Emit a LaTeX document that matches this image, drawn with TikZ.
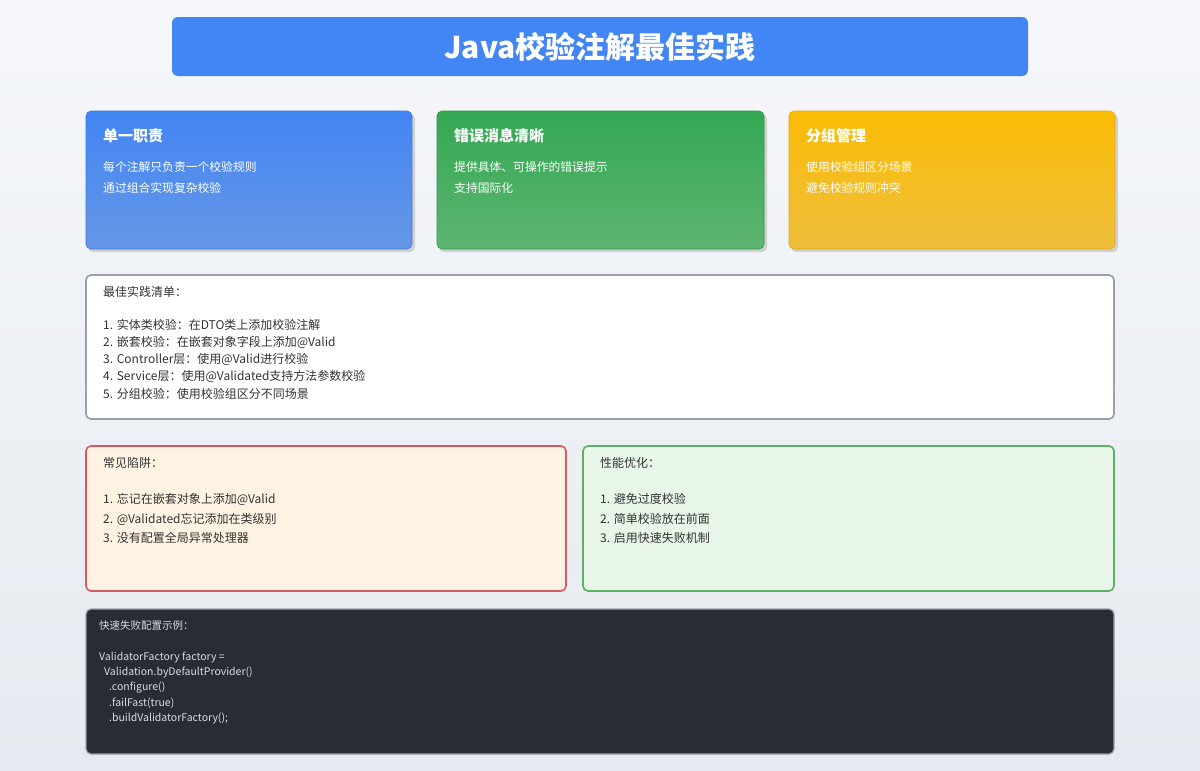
\documentclass[tikz,border=0pt]{standalone}
\usepackage{fontspec}
\setmainfont{Noto Sans CJK SC}
\usetikzlibrary{positioning}
\definecolor{bgtop}{HTML}{F5F7FA}
\definecolor{bgbot}{HTML}{E6EAF0}
\definecolor{gblue}{HTML}{4285F4}
\definecolor{gblue2}{HTML}{6697E6}
\definecolor{ggreen}{HTML}{34A853}
\definecolor{ggreen2}{HTML}{5DB571}
\definecolor{gyellow}{HTML}{FBBC05}
\definecolor{gyellow2}{HTML}{EDBE3D}
\definecolor{txtdark}{HTML}{333333}
\definecolor{graybd}{HTML}{9AA0A6}
\definecolor{redbd}{HTML}{D65A62}
\definecolor{redfill}{HTML}{FEF3E2}
\definecolor{greenbd}{HTML}{5CB160}
\definecolor{greenfill}{HTML}{E8F5E9}
\definecolor{codebg}{HTML}{282C34}
\definecolor{codetxt}{HTML}{D8DCE2}
\tikzset{
  cardtitle/.style={anchor=west, inner sep=0pt, text=white, font=\fontsize{15}{18}\selectfont\bfseries},
  cardline/.style={anchor=west, inner sep=0pt, text=white, font=\fontsize{11.8}{14}\selectfont},
  bodyline/.style={anchor=west, inner sep=0pt, text=txtdark, font=\fontsize{12}{14}\selectfont},
  codeline/.style={anchor=west, inner sep=0pt, text=codetxt, font=\fontsize{10.5}{13}\selectfont},
  shadowbox/.style={fill=black!18, rounded corners=5pt},
}
\begin{document}
\begin{tikzpicture}[x=1pt,y=-1pt]
\useasboundingbox (0,0) rectangle (1200,771);
\shade[top color=bgtop, bottom color=bgbot] (0,0) rectangle (1200,771);
% title
\fill[gblue, rounded corners=6pt] (172,17) rectangle (1028,76);
\node[text=white, font=\fontsize{30}{34}\selectfont\bfseries] (title) at (600,47) {Java校验注解最佳实践};
% cards
\fill[shadowbox] (88,114) rectangle (415,252);
\shade[top color=gblue, bottom color=gblue2, rounded corners=5pt, draw=gblue!90!black, line width=0.6pt] (86,111) rectangle (412,249);
\node[cardtitle] (t1) at (103,136) {单一职责};
\node[cardline] (t1a) at (103,167) {每个注解只负责一个校验规则};
\node[cardline] (t1b) at (103,188) {通过组合实现复杂校验};
\fill[shadowbox] (439,114) rectangle (767,252);
\shade[top color=ggreen, bottom color=ggreen2, rounded corners=5pt, draw=ggreen!90!black, line width=0.6pt] (437,111) rectangle (764,249);
\node[cardtitle] (t2) at (454,136) {错误消息清晰};
\node[cardline] (t2a) at (454,167) {提供具体、可操作的错误提示};
\node[cardline] (t2b) at (454,188) {支持国际化};
\fill[shadowbox] (791,114) rectangle (1118,252);
\shade[top color=gyellow, bottom color=gyellow2, rounded corners=5pt, draw=gyellow!90!black, line width=0.6pt] (789,111) rectangle (1115,249);
\node[cardtitle] (t3) at (806,136) {分组管理};
\node[cardline] (t3a) at (806,167) {使用校验组区分场景};
\node[cardline] (t3b) at (806,188) {避免校验规则冲突};
% checklist
\draw[graybd, fill=white, line width=1.6pt, rounded corners=5pt] (86,275) rectangle (1114,419);
\node[bodyline] (c0) at (103,292) {最佳实践清单：};
\node[bodyline] (c1) at (103,325) {1. 实体类校验：在DTO类上添加校验注解};
\node[bodyline] (c2) at (103,342) {2. 嵌套校验：在嵌套对象字段上添加@Valid};
\node[bodyline] (c3) at (103,359) {3. Controller层：使用@Valid进行校验};
\node[bodyline] (c4) at (103,376) {4. Service层：使用@Validated支持方法参数校验};
\node[bodyline] (c5) at (103,394) {5. 分组校验：使用校验组区分不同场景};
% pitfalls
\draw[redbd, fill=redfill, line width=1.6pt, rounded corners=5pt] (86,446) rectangle (566,591);
\node[bodyline] (p0) at (103,463) {常见陷阱：};
\node[bodyline] (p1) at (103,499) {1. 忘记在嵌套对象上添加@Valid};
\node[bodyline] (p2) at (103,519) {2. @Validated忘记添加在类级别};
\node[bodyline] (p3) at (103,538) {3. 没有配置全局异常处理器};
% performance
\draw[greenbd, fill=greenfill, line width=1.6pt, rounded corners=5pt] (583,446) rectangle (1114,591);
\node[bodyline] (q0) at (600,463) {性能优化：};
\node[bodyline] (q1) at (600,499) {1. 避免过度校验};
\node[bodyline] (q2) at (600,519) {2. 简单校验放在前面};
\node[bodyline] (q3) at (600,538) {3. 启用快速失败机制};
% code
\draw[graybd, fill=codebg, line width=1.2pt, rounded corners=5pt] (86,609) rectangle (1114,754);
\node[codeline] (k0) at (99,626) {快速失败配置示例：};
\node[codeline] (k1) at (99,657) {ValidatorFactory factory =};
\node[codeline] (k2) at (99,672) {\hspace{5pt}Validation.byDefaultProvider()};
\node[codeline] (k3) at (99,688) {\hspace{10pt}.configure()};
\node[codeline] (k4) at (99,703) {\hspace{10pt}.failFast(true)};
\node[codeline] (k5) at (99,718) {\hspace{10pt}.buildValidatorFactory();};
\end{tikzpicture}
\end{document}
